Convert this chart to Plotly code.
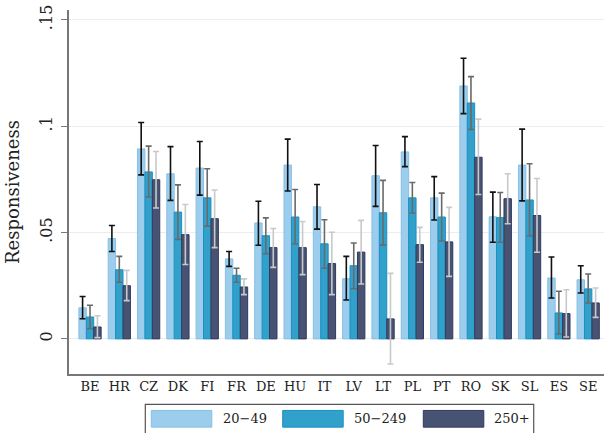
import plotly.graph_objects as go

countries = ["BE", "HR", "CZ", "DK", "FI", "FR", "DE", "HU", "IT", "LV",
             "LT", "PL", "PT", "RO", "SK", "SL", "ES", "SE"]

series_names = ["20\u221249", "50\u2212249", "250+"]

# point estimates
small = [0.0146, 0.0472, 0.0893, 0.0776, 0.0803, 0.0376, 0.0545, 0.0817, 0.0621,
         0.0283, 0.0767, 0.0879, 0.0663, 0.1189, 0.0574, 0.0817, 0.0286, 0.0278]
medium = [0.0103, 0.0325, 0.0785, 0.0596, 0.0663, 0.0299, 0.0485, 0.0573, 0.0447,
          0.0344, 0.0593, 0.0663, 0.0573, 0.1109, 0.0570, 0.0653, 0.0122, 0.0235]
large = [0.0056, 0.0250, 0.0748, 0.0490, 0.0565, 0.0244, 0.0429, 0.0429, 0.0354,
         0.0408, 0.0094, 0.0443, 0.0456, 0.0854, 0.0659, 0.0580, 0.0119, 0.0169]

# confidence interval bounds
small_hi = [0.0199, 0.0533, 0.1017, 0.0904, 0.0928, 0.0411, 0.0647, 0.0939, 0.0726,
            0.0388, 0.0909, 0.0951, 0.0763, 0.1319, 0.0690, 0.0986, 0.0385, 0.0344]
small_lo = [0.0095, 0.0411, 0.0771, 0.0651, 0.0676, 0.0341, 0.0440, 0.0695, 0.0516,
            0.0183, 0.0623, 0.0810, 0.0559, 0.1059, 0.0454, 0.0649, 0.0192, 0.0216]
medium_hi = [0.0158, 0.0388, 0.0906, 0.0724, 0.0800, 0.0332, 0.0569, 0.0702, 0.0560,
             0.0451, 0.0745, 0.0735, 0.0685, 0.1233, 0.0688, 0.0823, 0.0224, 0.0305]
medium_lo = [0.0048, 0.0266, 0.0667, 0.0468, 0.0530, 0.0266, 0.0400, 0.0446, 0.0332,
             0.0236, 0.0441, 0.0592, 0.0460, 0.0984, 0.0454, 0.0484, 0.0023, 0.0169]
large_hi = [0.0109, 0.0322, 0.0881, 0.0632, 0.0700, 0.0282, 0.0519, 0.0552, 0.0501,
            0.0557, 0.0308, 0.0524, 0.0618, 0.1033, 0.0776, 0.0754, 0.0231, 0.0239]
large_lo = [0.0006, 0.0180, 0.0615, 0.0350, 0.0429, 0.0208, 0.0336, 0.0302, 0.0208,
            0.0258, -0.0118, 0.0360, 0.0294, 0.0679, 0.0541, 0.0407, 0.0009, 0.0101]

y_tickvals = [0, 0.05, 0.1, 0.15]
y_ticktext = ["0", ".05", ".1", ".15"]

FONT = "DejaVu Serif"
fills = ["#9dcdec", "#31a1cc", "#485373"]
edges = ["#86c0e6", "#1a8fc0", "#2f3b5e"]
err_cols = ["#111111", "#6a6a6a", "#c9c9c9"]

fig = go.Figure()
for name, vals, hi, lo, fc, ec, erc in zip(
        series_names,
        [small, medium, large],
        [small_hi, medium_hi, large_hi],
        [small_lo, medium_lo, large_lo],
        fills, edges, err_cols):
    fig.add_trace(go.Bar(
        x=countries, y=vals, name=name, showlegend=False,
        marker=dict(color=fc, line=dict(color=ec, width=1)),
        error_y=dict(type="data", symmetric=False,
                     array=[h - v for h, v in zip(hi, vals)],
                     arrayminus=[v - l for v, l in zip(vals, lo)],
                     color=erc, thickness=1.6, width=3),
    ))

# plot area geometry (pixels) used for the hand-drawn legend
L, R, T, B = 69, 604, 10, 374.5
W, H = R - L, B - T


def px(x):
    return (x - L) / W


def py(y):
    return (B - y) / H


shapes = [dict(type="rect", xref="paper", yref="paper",
               x0=px(145.3), x1=px(533.7), y0=py(440), y1=py(405),
               line=dict(color="#555555", width=1.2), fillcolor="rgba(0,0,0,0)")]
annotations = []
sw_x = [151.3, 282.7, 423.3]
tx_x = [220.7, 352.0, 492.0]
for i, name in enumerate(series_names):
    shapes.append(dict(type="rect", xref="paper", yref="paper",
                       x0=px(sw_x[i]), x1=px(sw_x[i] + 60.5),
                       y0=py(427.7), y1=py(411),
                       line=dict(color=edges[i], width=1), fillcolor=fills[i]))
    annotations.append(dict(xref="paper", yref="paper", x=px(tx_x[i]), y=py(419.5),
                            text=name, showarrow=False, xanchor="left", yanchor="middle",
                            font=dict(family=FONT, size=13, color="#222222")))

fig.update_layout(
    width=604, height=433,
    margin=dict(l=L, r=604 - R, t=T, b=433 - B),
    paper_bgcolor="white", plot_bgcolor="white",
    barmode="group", bargap=0.24, bargroupgap=0,
    font=dict(family=FONT, color="#222222"),
    shapes=shapes, annotations=annotations,
    showlegend=False,
)
fig.update_xaxes(
    type="category", range=[-0.717, 17.54],
    showline=True, linecolor="#777777", linewidth=1.5,
    ticks="", showgrid=False,
    tickfont=dict(family=FONT, size=13, color="#222222"),
)
fig.update_yaxes(
    range=[-0.0165, 0.1546],
    tickvals=y_tickvals, ticktext=y_ticktext, tickangle=-90,
    showline=True, linecolor="#777777", linewidth=1.5,
    ticks="outside", ticklen=6, tickcolor="#777777", tickwidth=1.2,
    ticklabelstandoff=3,
    showgrid=True, gridcolor="#e6eef1", gridwidth=1, zeroline=False,
    tickfont=dict(family=FONT, size=16, color="#222222"),
    title=dict(text="Responsiveness", standoff=13,
               font=dict(family=FONT, size=18, color="#222222")),
)

fig.write_html("out.html")
